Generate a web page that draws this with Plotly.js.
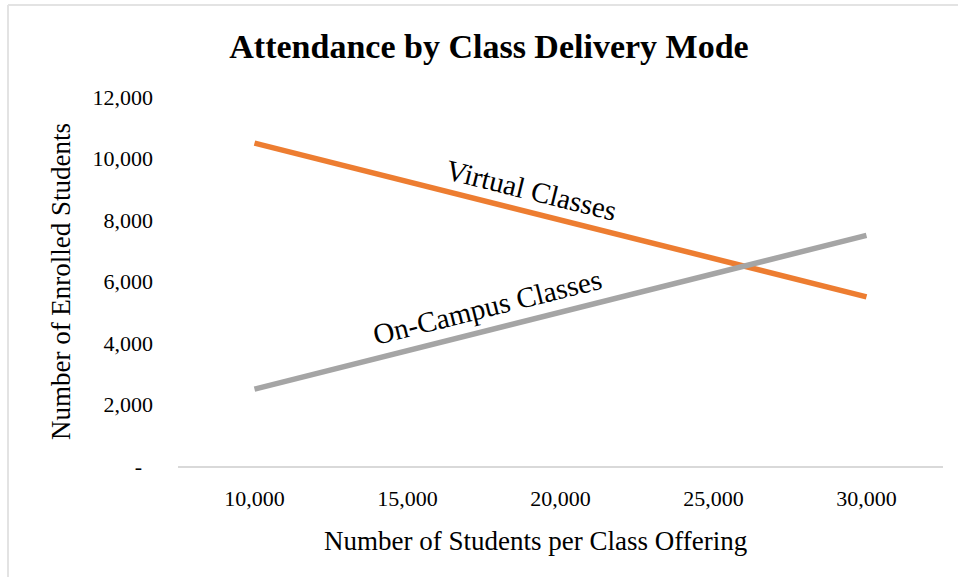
<!DOCTYPE html>
<html>
<head>
<meta charset="utf-8">
<script src="https://cdn.plot.ly/plotly-3.0.1.min.js"></script>
<style>html,body{margin:0;padding:0;background:#fff;}#chart{width:958px;height:577px;}</style>
</head>
<body>
<div id="chart"></div>
<script>
var categories = ["10,000", "15,000", "20,000", "25,000", "30,000"];
var virtualClasses = [10500, 9250, 8000, 6750, 5500];
var onCampusClasses = [2500, 3750, 5000, 6250, 7500];
var yTickVals = [0, 2000, 4000, 6000, 8000, 10000, 12000];
var yTickText = ["-\u00a0\u00a0", "2,000", "4,000", "6,000", "8,000", "10,000", "12,000"];

var serif = "Liberation Serif, Times New Roman, serif";
var L = 178, R = 15, T = 97, B = 111, W = 958, H = 577;
var pw = W - L - R, ph = H - T - B;
function px(x){ return (x - L) / pw; }
function py(y){ return (H - B - y) / ph; }

var traces = [
  {x: categories, y: virtualClasses, type: "scatter", mode: "lines", name: "Virtual Classes",
   line: {color: "#ED7D31", width: 5.5}},
  {x: categories, y: onCampusClasses, type: "scatter", mode: "lines", name: "On-Campus Classes",
   line: {color: "#A5A5A5", width: 5.5}}
];

var layout = {
  width: W, height: H,
  margin: {l: L, r: R, t: T, b: B, pad: 0},
  paper_bgcolor: "#fff", plot_bgcolor: "#fff",
  showlegend: false,
  font: {family: serif, color: "#000", size: 22},
  title: {text: "<b>Attendance by Class Delivery Mode</b>", font: {family: serif, size: 34, color: "#000"},
          x: 489 / W, xref: "container", xanchor: "center", y: 1 - 46/H, yanchor: "middle"},
  xaxis: {type: "category", range: [-0.5, 4.5], showgrid: false, zeroline: false,
          showline: true, linecolor: "#D9D9D9", linewidth: 1.5, ticks: "", ticklabelstandoff: 12,
          tickfont: {family: serif, size: 22, color: "#000"}},
  yaxis: {range: [0, 12000], tickvals: yTickVals, ticktext: yTickText, showgrid: false, zeroline: false,
          showline: false, ticks: "", ticklabelstandoff: 24,
          tickfont: {family: serif, size: 22, color: "#000"},
          title: {text: "Number of Enrolled Students", font: {family: serif, size: 27, color: "#000"}, standoff: 14}},
  annotations: [
    {text: "Number of Students per Class Offering", xref: "paper", yref: "paper", x: px(535), y: py(541),
     showarrow: false, font: {family: serif, size: 27, color: "#000"}, xanchor: "center", yanchor: "middle"},
    {text: "Virtual Classes", xref: "paper", yref: "paper", x: px(531), y: py(190), showarrow: false,
     textangle: 14, font: {family: serif, size: 29, color: "#000"}, xanchor: "center", yanchor: "middle"},
    {text: "On-Campus Classes", xref: "paper", yref: "paper", x: px(487), y: py(307), showarrow: false,
     textangle: -14, font: {family: serif, size: 29, color: "#000"}, xanchor: "center", yanchor: "middle"}
  ],
  shapes: [
    {type: "line", xref: "paper", yref: "paper", x0: px(8), x1: px(958), y0: py(5), y1: py(5), line: {color: "#E3E3E3", width: 2}},
    {type: "line", xref: "paper", yref: "paper", x0: px(8), x1: px(8), y0: py(5), y1: py(577), line: {color: "#E3E3E3", width: 2}}
  ]
};

Plotly.newPlot("chart", traces, layout, {displayModeBar: false, staticPlot: true});
</script>
</body>
</html>
